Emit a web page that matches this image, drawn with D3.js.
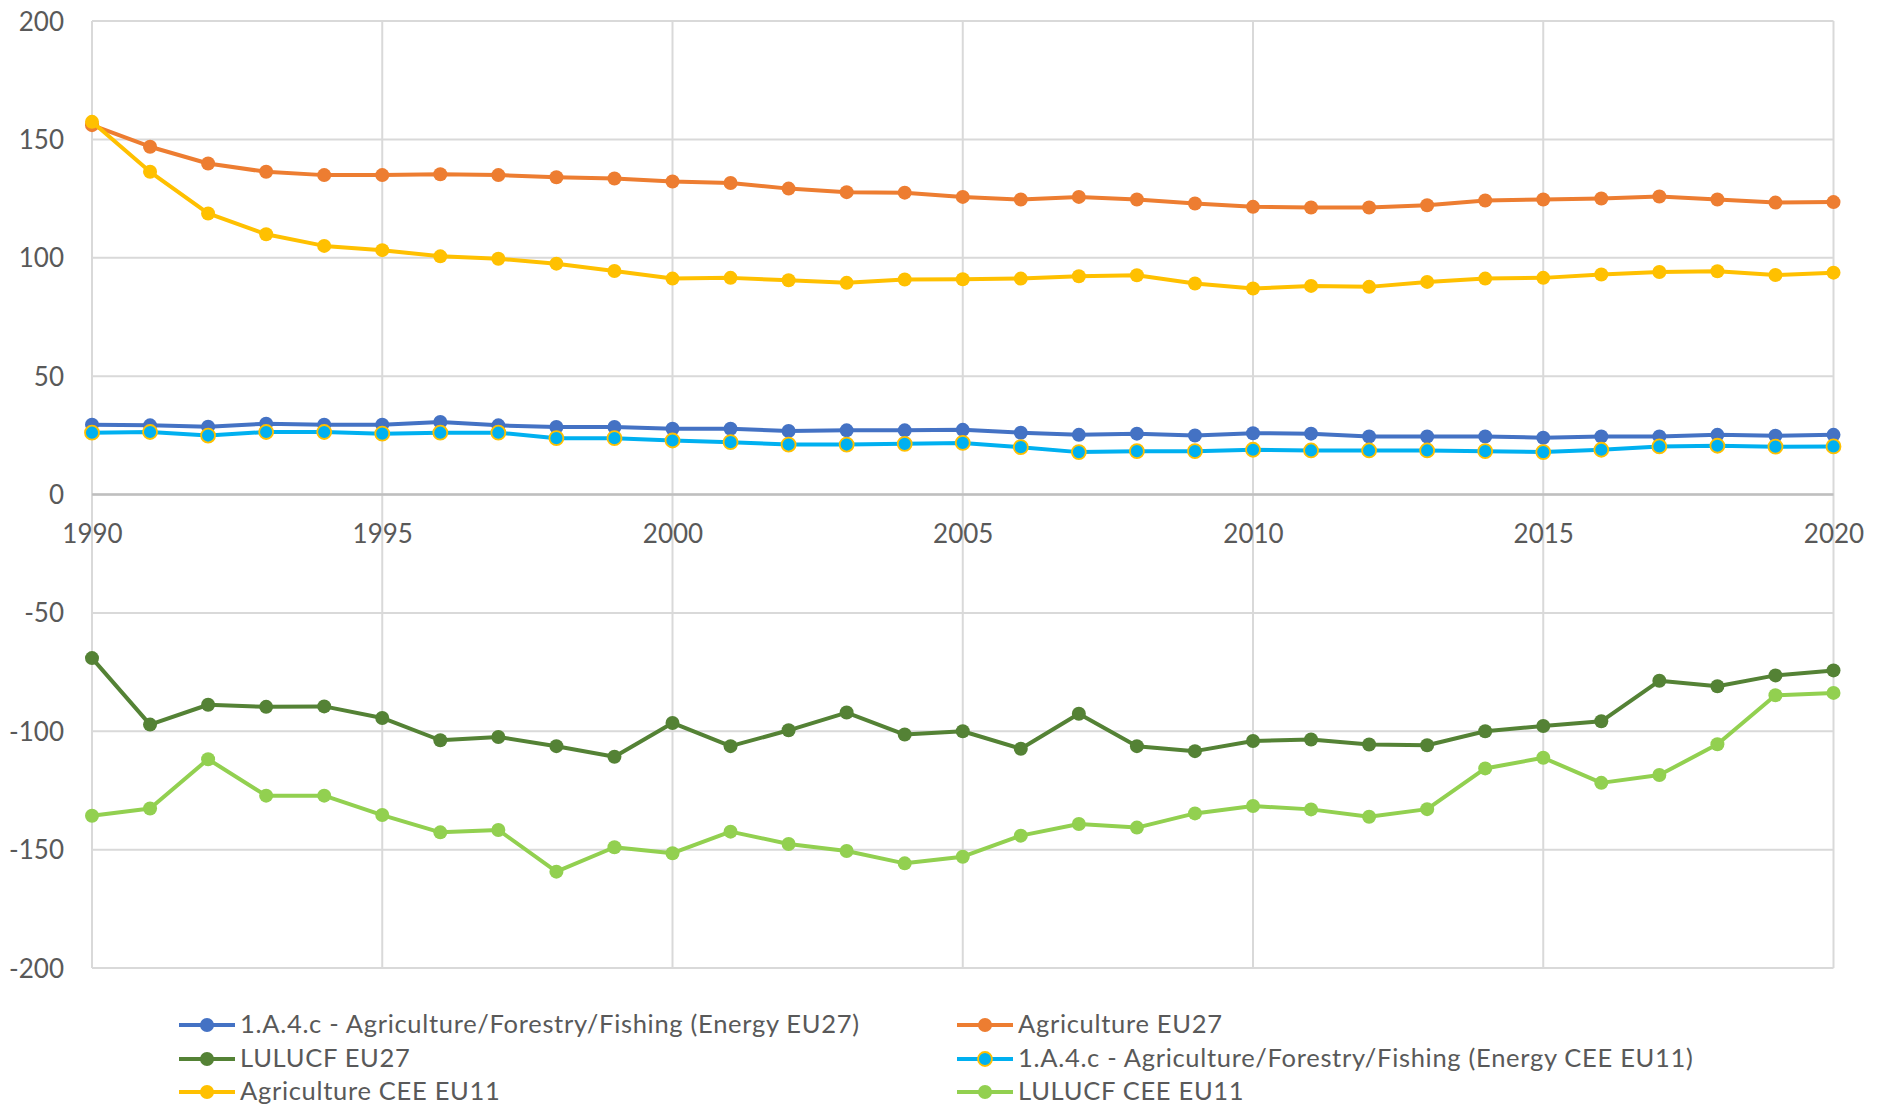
<!DOCTYPE html>
<html><head><meta charset="utf-8">
<script src="https://cdn.jsdelivr.net/npm/d3@7"></script>
<style>body{margin:0;background:#fff;}svg{display:block;}</style>
</head><body>
<svg id="c" width="1878" height="1108"></svg>
<script>
const years = d3.range(1990, 2021);
const energyEU27 = [29.5,29.2,28.6,29.9,29.5,29.5,30.6,29.2,28.5,28.5,27.8,27.8,26.8,27.1,27.1,27.3,26.1,25.2,25.7,24.9,25.9,25.7,24.5,24.5,24.5,24.0,24.5,24.5,25.2,24.8,25.2];
const agricultureEU27 = [156.0,146.9,139.8,136.3,134.9,134.9,135.3,134.9,134.0,133.5,132.2,131.6,129.2,127.7,127.5,125.7,124.6,125.7,124.6,122.9,121.5,121.2,121.2,122.2,124.2,124.6,125.0,125.9,124.6,123.3,123.5];
const lulucfEU27 = [-69.1,-97.2,-88.8,-89.7,-89.5,-94.4,-103.8,-102.4,-106.3,-110.8,-96.5,-106.3,-99.6,-92.1,-101.4,-100.0,-107.4,-92.6,-106.3,-108.4,-104.1,-103.5,-105.6,-105.9,-100.0,-97.8,-95.8,-78.7,-81.0,-76.4,-74.3];
const energyCEE = [26.1,26.4,24.9,26.4,26.4,25.7,26.1,26.1,23.8,23.8,22.8,22.1,21.1,21.1,21.4,21.8,20.0,17.9,18.3,18.3,18.9,18.6,18.6,18.6,18.3,17.9,18.9,20.3,20.6,20.2,20.3];
const agricultureCEE = [157.4,136.3,118.7,109.9,105.0,103.2,100.6,99.6,97.5,94.4,91.2,91.5,90.5,89.4,90.8,90.9,91.2,92.2,92.6,89.1,87.0,88.1,87.7,89.8,91.2,91.5,92.9,94.0,94.3,92.7,93.7];
const lulucfCEE = [-135.7,-132.6,-111.8,-127.2,-127.2,-135.4,-142.7,-141.7,-159.3,-149.0,-151.5,-142.4,-147.6,-150.6,-155.8,-153.0,-144.1,-139.2,-140.7,-134.7,-131.6,-133.0,-136.1,-132.9,-115.7,-111.2,-121.8,-118.5,-105.5,-84.8,-83.8];
const seriesNames = ["1.A.4.c - Agriculture/Forestry/Fishing (Energy EU27)","Agriculture EU27","LULUCF EU27","1.A.4.c - Agriculture/Forestry/Fishing (Energy CEE EU11)","Agriculture CEE EU11","LULUCF CEE EU11"];
const yTicks = [-200,-150,-100,-50,0,50,100,150,200];
const xTicks = [1990,1995,2000,2005,2010,2015,2020];

const series = [
  {name: seriesNames[0], values: energyEU27, color: "#4472C4", stroke: "#4472C4"},
  {name: seriesNames[1], values: agricultureEU27, color: "#ED7D31", stroke: "#ED7D31"},
  {name: seriesNames[2], values: lulucfEU27, color: "#548235", stroke: "#548235"},
  {name: seriesNames[3], values: energyCEE, color: "#00B0F0", stroke: "#FFC000"},
  {name: seriesNames[4], values: agricultureCEE, color: "#FFC000", stroke: "#FFC000"},
  {name: seriesNames[5], values: lulucfCEE, color: "#92D050", stroke: "#92D050"}
];

const svg = d3.select("#c");
const font = "Lato, 'Open Sans', sans-serif";
const x = d3.scaleLinear().domain([1990, 2020]).range([92, 1833.5]);
const y = d3.scaleLinear().domain([-200, 200]).range([968, 21]);

// horizontal gridlines
svg.append("g").selectAll("line").data(yTicks).join("line")
  .attr("x1", x(1990)).attr("x2", x(2020))
  .attr("y1", d => y(d)).attr("y2", d => y(d))
  .attr("stroke", "#d9d9d9").attr("stroke-width", 2);
// vertical gridlines
svg.append("g").selectAll("line").data(xTicks).join("line")
  .attr("x1", d => x(d)).attr("x2", d => x(d))
  .attr("y1", y(200)).attr("y2", y(-200))
  .attr("stroke", "#d9d9d9").attr("stroke-width", 2);
// zero line
svg.append("line").attr("x1", x(1990)).attr("x2", x(2020)).attr("y1", y(0)).attr("y2", y(0))
  .attr("stroke", "#bfbfbf").attr("stroke-width", 2.5);

// y axis labels
const yAxis = d3.axisLeft(y).tickValues(yTicks).tickFormat(d => String(d)).tickSize(0).tickPadding(0);
const gy = svg.append("g").attr("transform", "translate(64,0)").call(yAxis);
gy.select(".domain").remove();
gy.selectAll("text").attr("font-family", font).attr("font-size", 26).attr("fill", "#595959").attr("dy", "0.35em");

// x axis labels at zero line
const xAxis = d3.axisBottom(x).tickValues(xTicks).tickFormat(d3.format("d")).tickSize(0).tickPadding(0);
const gx = svg.append("g").attr("transform", `translate(0,${y(0)+39})`).call(xAxis);
gx.select(".domain").remove();
gx.selectAll("text").attr("font-family", font).attr("font-size", 26).attr("fill", "#595959").attr("dy", "0.35em");

const line = d3.line().x((d, i) => x(years[i])).y(d => y(d));
series.forEach(s => {
  const g = svg.append("g");
  g.append("path").datum(s.values).attr("d", line).attr("fill", "none")
    .attr("stroke", s.color).attr("stroke-width", 4).attr("stroke-linejoin", "round");
  g.selectAll("circle").data(s.values).join("circle")
    .attr("cx", (d, i) => x(years[i])).attr("cy", d => y(d)).attr("r", 7)
    .attr("fill", s.color).attr("stroke", s.stroke).attr("stroke-width", s.stroke === s.color ? 0 : 1.8);
});

// legend
const legPos = [[179, 1025],[957, 1025],[179, 1059],[957, 1059],[179, 1092],[957, 1092]];
series.forEach((s, i) => {
  const [lx, ly] = legPos[i];
  const g = svg.append("g").attr("transform", `translate(${lx},${ly})`);
  g.append("line").attr("x1", 0).attr("x2", 56).attr("y1", 0).attr("y2", 0)
    .attr("stroke", s.color).attr("stroke-width", 4);
  g.append("circle").attr("cx", 28).attr("cy", 0).attr("r", 7).attr("fill", s.color)
    .attr("stroke", s.stroke).attr("stroke-width", s.stroke === s.color ? 0 : 1.8);
  g.append("text").attr("x", 61).attr("y", 0).attr("dy", "0.33em")
    .attr("font-family", font).attr("font-size", 25.5).attr("letter-spacing", 0.7)
    .attr("fill", "#595959").text(s.name);
});
</script>
</body></html>
